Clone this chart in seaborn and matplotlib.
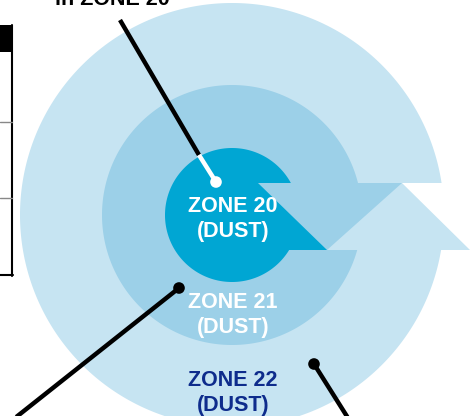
import numpy as np
import pandas as pd
import matplotlib
matplotlib.use("Agg")
import matplotlib.pyplot as plt
from matplotlib.patches import Polygon, Rectangle
import seaborn as sns

# ---- data ----
zones = ["ZONE 22", "ZONE 21", "ZONE 20"]
zone_sub = ["(DUST)", "(DUST)", "(DUST)"]
zone_radius = [212, 130, 67]
zone_colors = ["#C6E4F2", "#9CD0E8", "#00A6D3"]
zone_text_colors = ["#0E2C8C", "#FFFFFF", "#FFFFFF"]
zone_text_y = [378, 300, 203]
arrow_tip_x = [470, 327, 327]      # tip of the zig-zag notch for each zone
arrow_back_x = [402, 402, 258]     # other corner of the notch
center = (232, 215)
band_top, band_bot = 183, 250

pointer_dot_x = [216, 179, 314]
pointer_dot_y = [182, 288, 364]
pointer_end_x = [120, 15, 348]
pointer_end_y = [20, 418, 418]
pointer_dot_col = ["white", "black", "black"]

top_label = "in ZONE 20"

sns.set_theme(style="white")
plt.rcParams['font.family'] = ['Liberation Sans', 'DejaVu Sans']

fig = plt.figure(figsize=(4.73, 4.16), dpi=100)
ax = fig.add_axes([0, 0, 1, 1])

cx, cy = center
for i, r in enumerate(zone_radius):
    t1 = np.arcsin((cy - band_top) / r)
    t2 = np.arcsin((cy - band_bot) / r)
    t = np.linspace(t1, 2 * np.pi + t2, 400)
    xs = cx + r * np.cos(t)
    ys = cy - r * np.sin(t)
    pts = list(zip(xs, ys))
    pts += [(arrow_tip_x[i], band_bot), (arrow_back_x[i], band_top)]
    ax.add_patch(Polygon(pts, closed=True, facecolor=zone_colors[i],
                         edgecolor="none", zorder=1 + i))

for i in range(3):
    ax.text(cx + 1, zone_text_y[i] + 3, zones[i], ha="center", va="center",
            fontsize=15.5, fontweight="bold", color=zone_text_colors[i], zorder=10)
    ax.text(cx + 1, zone_text_y[i] + 28, zone_sub[i], ha="center", va="center",
            fontsize=15.5, fontweight="bold", color=zone_text_colors[i], zorder=10)

# pointers: the first is black outside, white inside the inner zone
ax.plot([pointer_end_x[0], 199], [pointer_end_y[0], 155], color="black",
        lw=3.2, solid_capstyle="butt", zorder=8)
ax.plot([199, pointer_dot_x[0]], [155, pointer_dot_y[0]], color="white",
        lw=3.2, solid_capstyle="butt", zorder=8)
for i in (1, 2):
    ax.plot([pointer_dot_x[i], pointer_end_x[i]], [pointer_dot_y[i], pointer_end_y[i]],
            color="black", lw=3.2, solid_capstyle="butt", zorder=8)

dots = pd.DataFrame({"x": pointer_dot_x, "y": pointer_dot_y, "c": pointer_dot_col})
sns.scatterplot(data=dots, x="x", y="y", hue="c", palette={"white": "white", "black": "black"},
                s=70, edgecolor="none", legend=False, ax=ax, zorder=9)

ax.text(112, 5, top_label, ha="center", va="baseline", fontsize=15.5,
        fontweight="bold", color="black", zorder=10)

# table fragment on the left
ax.add_patch(Rectangle((0, 25), 13, 27, facecolor="black", edgecolor="none", zorder=5))
ax.plot([12, 12], [25, 276], color="black", lw=1.5, zorder=5)
ax.plot([0, 12], [122, 122], color="#888888", lw=1.0, zorder=5)
ax.plot([0, 12], [198, 198], color="#888888", lw=1.0, zorder=5)
ax.plot([0, 13], [275, 275], color="black", lw=1.5, zorder=5)

ax.set_xlim(0, 473)
ax.set_ylim(416, 0)
ax.axis("off")

fig.savefig("out.png", dpi=100)
